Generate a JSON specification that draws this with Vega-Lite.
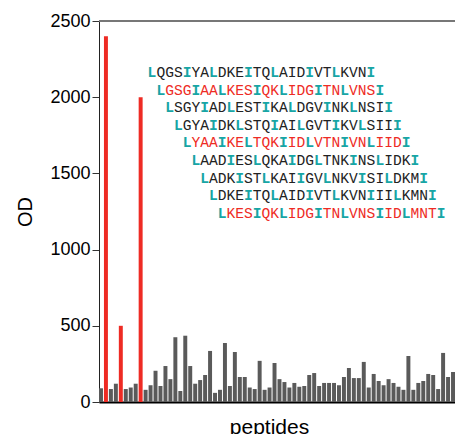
{
  "$schema": "https://vega.github.io/schema/vega-lite/v6.json",
  "width": 356,
  "height": 381,
  "autosize": {"type": "none"},
  "padding": {"left": 99, "top": 21, "right": 0, "bottom": 32},
  "background": "white",
  "config": {"view": {"stroke": null}},
  "datasets": {
    "bars": [
      {"peptide": 1, "OD": 90, "result": "negative"},
      {"peptide": 2, "OD": 2400, "result": "positive"},
      {"peptide": 3, "OD": 85, "result": "negative"},
      {"peptide": 4, "OD": 120, "result": "negative"},
      {"peptide": 5, "OD": 500, "result": "positive"},
      {"peptide": 6, "OD": 85, "result": "negative"},
      {"peptide": 7, "OD": 95, "result": "negative"},
      {"peptide": 8, "OD": 120, "result": "negative"},
      {"peptide": 9, "OD": 2000, "result": "positive"},
      {"peptide": 10, "OD": 80, "result": "negative"},
      {"peptide": 11, "OD": 110, "result": "negative"},
      {"peptide": 12, "OD": 205, "result": "negative"},
      {"peptide": 13, "OD": 105, "result": "negative"},
      {"peptide": 14, "OD": 236, "result": "negative"},
      {"peptide": 15, "OD": 150, "result": "negative"},
      {"peptide": 16, "OD": 425, "result": "negative"},
      {"peptide": 17, "OD": 72, "result": "negative"},
      {"peptide": 18, "OD": 435, "result": "negative"},
      {"peptide": 19, "OD": 236, "result": "negative"},
      {"peptide": 20, "OD": 120, "result": "negative"},
      {"peptide": 21, "OD": 144, "result": "negative"},
      {"peptide": 22, "OD": 177, "result": "negative"},
      {"peptide": 23, "OD": 335, "result": "negative"},
      {"peptide": 24, "OD": 60, "result": "negative"},
      {"peptide": 25, "OD": 80, "result": "negative"},
      {"peptide": 26, "OD": 387, "result": "negative"},
      {"peptide": 27, "OD": 105, "result": "negative"},
      {"peptide": 28, "OD": 328, "result": "negative"},
      {"peptide": 29, "OD": 164, "result": "negative"},
      {"peptide": 30, "OD": 164, "result": "negative"},
      {"peptide": 31, "OD": 95, "result": "negative"},
      {"peptide": 32, "OD": 85, "result": "negative"},
      {"peptide": 33, "OD": 270, "result": "negative"},
      {"peptide": 34, "OD": 80, "result": "negative"},
      {"peptide": 35, "OD": 95, "result": "negative"},
      {"peptide": 36, "OD": 256, "result": "negative"},
      {"peptide": 37, "OD": 150, "result": "negative"},
      {"peptide": 38, "OD": 131, "result": "negative"},
      {"peptide": 39, "OD": 95, "result": "negative"},
      {"peptide": 40, "OD": 125, "result": "negative"},
      {"peptide": 41, "OD": 100, "result": "negative"},
      {"peptide": 42, "OD": 105, "result": "negative"},
      {"peptide": 43, "OD": 177, "result": "negative"},
      {"peptide": 44, "OD": 190, "result": "negative"},
      {"peptide": 45, "OD": 105, "result": "negative"},
      {"peptide": 46, "OD": 125, "result": "negative"},
      {"peptide": 47, "OD": 125, "result": "negative"},
      {"peptide": 48, "OD": 125, "result": "negative"},
      {"peptide": 49, "OD": 110, "result": "negative"},
      {"peptide": 50, "OD": 164, "result": "negative"},
      {"peptide": 51, "OD": 223, "result": "negative"},
      {"peptide": 52, "OD": 157, "result": "negative"},
      {"peptide": 53, "OD": 157, "result": "negative"},
      {"peptide": 54, "OD": 263, "result": "negative"},
      {"peptide": 55, "OD": 95, "result": "negative"},
      {"peptide": 56, "OD": 184, "result": "negative"},
      {"peptide": 57, "OD": 138, "result": "negative"},
      {"peptide": 58, "OD": 110, "result": "negative"},
      {"peptide": 59, "OD": 150, "result": "negative"},
      {"peptide": 60, "OD": 125, "result": "negative"},
      {"peptide": 61, "OD": 100, "result": "negative"},
      {"peptide": 62, "OD": 80, "result": "negative"},
      {"peptide": 63, "OD": 302, "result": "negative"},
      {"peptide": 64, "OD": 80, "result": "negative"},
      {"peptide": 65, "OD": 125, "result": "negative"},
      {"peptide": 66, "OD": 138, "result": "negative"},
      {"peptide": 67, "OD": 184, "result": "negative"},
      {"peptide": 68, "OD": 177, "result": "negative"},
      {"peptide": 69, "OD": 85, "result": "negative"},
      {"peptide": 70, "OD": 322, "result": "negative"},
      {"peptide": 71, "OD": 164, "result": "negative"},
      {"peptide": 72, "OD": 197, "result": "negative"}
    ],
    "seq": [
      {"line":1,"col":1,"aa":"L","kind":"anchor"},{"line":1,"col":2,"aa":"Q","kind":"neg"},{"line":1,"col":3,"aa":"G","kind":"neg"},{"line":1,"col":4,"aa":"S","kind":"neg"},{"line":1,"col":5,"aa":"I","kind":"anchor"},{"line":1,"col":6,"aa":"Y","kind":"neg"},{"line":1,"col":7,"aa":"A","kind":"neg"},{"line":1,"col":8,"aa":"L","kind":"anchor"},{"line":1,"col":9,"aa":"D","kind":"neg"},{"line":1,"col":10,"aa":"K","kind":"neg"},{"line":1,"col":11,"aa":"E","kind":"neg"},{"line":1,"col":12,"aa":"I","kind":"anchor"},{"line":1,"col":13,"aa":"T","kind":"neg"},{"line":1,"col":14,"aa":"Q","kind":"neg"},{"line":1,"col":15,"aa":"L","kind":"anchor"},{"line":1,"col":16,"aa":"A","kind":"neg"},{"line":1,"col":17,"aa":"I","kind":"neg"},{"line":1,"col":18,"aa":"D","kind":"neg"},{"line":1,"col":19,"aa":"I","kind":"anchor"},{"line":1,"col":20,"aa":"V","kind":"neg"},{"line":1,"col":21,"aa":"T","kind":"neg"},{"line":1,"col":22,"aa":"L","kind":"anchor"},{"line":1,"col":23,"aa":"K","kind":"neg"},{"line":1,"col":24,"aa":"V","kind":"neg"},{"line":1,"col":25,"aa":"N","kind":"neg"},{"line":1,"col":26,"aa":"I","kind":"anchor"},
      {"line":2,"col":2,"aa":"L","kind":"anchor"},{"line":2,"col":3,"aa":"G","kind":"pos"},{"line":2,"col":4,"aa":"S","kind":"pos"},{"line":2,"col":5,"aa":"G","kind":"pos"},{"line":2,"col":6,"aa":"I","kind":"anchor"},{"line":2,"col":7,"aa":"A","kind":"pos"},{"line":2,"col":8,"aa":"A","kind":"pos"},{"line":2,"col":9,"aa":"L","kind":"anchor"},{"line":2,"col":10,"aa":"K","kind":"pos"},{"line":2,"col":11,"aa":"E","kind":"pos"},{"line":2,"col":12,"aa":"S","kind":"pos"},{"line":2,"col":13,"aa":"I","kind":"anchor"},{"line":2,"col":14,"aa":"Q","kind":"pos"},{"line":2,"col":15,"aa":"K","kind":"pos"},{"line":2,"col":16,"aa":"L","kind":"anchor"},{"line":2,"col":17,"aa":"I","kind":"pos"},{"line":2,"col":18,"aa":"D","kind":"pos"},{"line":2,"col":19,"aa":"G","kind":"pos"},{"line":2,"col":20,"aa":"I","kind":"anchor"},{"line":2,"col":21,"aa":"T","kind":"pos"},{"line":2,"col":22,"aa":"N","kind":"pos"},{"line":2,"col":23,"aa":"L","kind":"anchor"},{"line":2,"col":24,"aa":"V","kind":"pos"},{"line":2,"col":25,"aa":"N","kind":"pos"},{"line":2,"col":26,"aa":"S","kind":"pos"},{"line":2,"col":27,"aa":"I","kind":"anchor"},
      {"line":3,"col":3,"aa":"L","kind":"anchor"},{"line":3,"col":4,"aa":"S","kind":"neg"},{"line":3,"col":5,"aa":"G","kind":"neg"},{"line":3,"col":6,"aa":"Y","kind":"neg"},{"line":3,"col":7,"aa":"I","kind":"anchor"},{"line":3,"col":8,"aa":"A","kind":"neg"},{"line":3,"col":9,"aa":"D","kind":"neg"},{"line":3,"col":10,"aa":"L","kind":"anchor"},{"line":3,"col":11,"aa":"E","kind":"neg"},{"line":3,"col":12,"aa":"S","kind":"neg"},{"line":3,"col":13,"aa":"T","kind":"neg"},{"line":3,"col":14,"aa":"I","kind":"anchor"},{"line":3,"col":15,"aa":"K","kind":"neg"},{"line":3,"col":16,"aa":"A","kind":"neg"},{"line":3,"col":17,"aa":"L","kind":"anchor"},{"line":3,"col":18,"aa":"D","kind":"neg"},{"line":3,"col":19,"aa":"G","kind":"neg"},{"line":3,"col":20,"aa":"V","kind":"neg"},{"line":3,"col":21,"aa":"I","kind":"anchor"},{"line":3,"col":22,"aa":"N","kind":"neg"},{"line":3,"col":23,"aa":"K","kind":"neg"},{"line":3,"col":24,"aa":"L","kind":"anchor"},{"line":3,"col":25,"aa":"N","kind":"neg"},{"line":3,"col":26,"aa":"S","kind":"neg"},{"line":3,"col":27,"aa":"I","kind":"neg"},{"line":3,"col":28,"aa":"I","kind":"anchor"},
      {"line":4,"col":4,"aa":"L","kind":"anchor"},{"line":4,"col":5,"aa":"G","kind":"neg"},{"line":4,"col":6,"aa":"Y","kind":"neg"},{"line":4,"col":7,"aa":"A","kind":"neg"},{"line":4,"col":8,"aa":"I","kind":"anchor"},{"line":4,"col":9,"aa":"D","kind":"neg"},{"line":4,"col":10,"aa":"K","kind":"neg"},{"line":4,"col":11,"aa":"L","kind":"anchor"},{"line":4,"col":12,"aa":"S","kind":"neg"},{"line":4,"col":13,"aa":"T","kind":"neg"},{"line":4,"col":14,"aa":"Q","kind":"neg"},{"line":4,"col":15,"aa":"I","kind":"anchor"},{"line":4,"col":16,"aa":"A","kind":"neg"},{"line":4,"col":17,"aa":"I","kind":"neg"},{"line":4,"col":18,"aa":"L","kind":"anchor"},{"line":4,"col":19,"aa":"G","kind":"neg"},{"line":4,"col":20,"aa":"V","kind":"neg"},{"line":4,"col":21,"aa":"T","kind":"neg"},{"line":4,"col":22,"aa":"I","kind":"anchor"},{"line":4,"col":23,"aa":"K","kind":"neg"},{"line":4,"col":24,"aa":"V","kind":"neg"},{"line":4,"col":25,"aa":"L","kind":"anchor"},{"line":4,"col":26,"aa":"S","kind":"neg"},{"line":4,"col":27,"aa":"I","kind":"neg"},{"line":4,"col":28,"aa":"I","kind":"neg"},{"line":4,"col":29,"aa":"I","kind":"anchor"},
      {"line":5,"col":5,"aa":"L","kind":"anchor"},{"line":5,"col":6,"aa":"Y","kind":"pos"},{"line":5,"col":7,"aa":"A","kind":"pos"},{"line":5,"col":8,"aa":"A","kind":"pos"},{"line":5,"col":9,"aa":"I","kind":"anchor"},{"line":5,"col":10,"aa":"K","kind":"pos"},{"line":5,"col":11,"aa":"E","kind":"pos"},{"line":5,"col":12,"aa":"L","kind":"anchor"},{"line":5,"col":13,"aa":"T","kind":"pos"},{"line":5,"col":14,"aa":"Q","kind":"pos"},{"line":5,"col":15,"aa":"K","kind":"pos"},{"line":5,"col":16,"aa":"I","kind":"anchor"},{"line":5,"col":17,"aa":"I","kind":"pos"},{"line":5,"col":18,"aa":"D","kind":"pos"},{"line":5,"col":19,"aa":"L","kind":"anchor"},{"line":5,"col":20,"aa":"V","kind":"pos"},{"line":5,"col":21,"aa":"T","kind":"pos"},{"line":5,"col":22,"aa":"N","kind":"pos"},{"line":5,"col":23,"aa":"I","kind":"anchor"},{"line":5,"col":24,"aa":"V","kind":"pos"},{"line":5,"col":25,"aa":"N","kind":"pos"},{"line":5,"col":26,"aa":"L","kind":"anchor"},{"line":5,"col":27,"aa":"I","kind":"pos"},{"line":5,"col":28,"aa":"I","kind":"pos"},{"line":5,"col":29,"aa":"D","kind":"pos"},{"line":5,"col":30,"aa":"I","kind":"anchor"},
      {"line":6,"col":6,"aa":"L","kind":"anchor"},{"line":6,"col":7,"aa":"A","kind":"neg"},{"line":6,"col":8,"aa":"A","kind":"neg"},{"line":6,"col":9,"aa":"D","kind":"neg"},{"line":6,"col":10,"aa":"I","kind":"anchor"},{"line":6,"col":11,"aa":"E","kind":"neg"},{"line":6,"col":12,"aa":"S","kind":"neg"},{"line":6,"col":13,"aa":"L","kind":"anchor"},{"line":6,"col":14,"aa":"Q","kind":"neg"},{"line":6,"col":15,"aa":"K","kind":"neg"},{"line":6,"col":16,"aa":"A","kind":"neg"},{"line":6,"col":17,"aa":"I","kind":"anchor"},{"line":6,"col":18,"aa":"D","kind":"neg"},{"line":6,"col":19,"aa":"G","kind":"neg"},{"line":6,"col":20,"aa":"L","kind":"anchor"},{"line":6,"col":21,"aa":"T","kind":"neg"},{"line":6,"col":22,"aa":"N","kind":"neg"},{"line":6,"col":23,"aa":"K","kind":"neg"},{"line":6,"col":24,"aa":"I","kind":"anchor"},{"line":6,"col":25,"aa":"N","kind":"neg"},{"line":6,"col":26,"aa":"S","kind":"neg"},{"line":6,"col":27,"aa":"L","kind":"anchor"},{"line":6,"col":28,"aa":"I","kind":"neg"},{"line":6,"col":29,"aa":"D","kind":"neg"},{"line":6,"col":30,"aa":"K","kind":"neg"},{"line":6,"col":31,"aa":"I","kind":"anchor"},
      {"line":7,"col":7,"aa":"L","kind":"anchor"},{"line":7,"col":8,"aa":"A","kind":"neg"},{"line":7,"col":9,"aa":"D","kind":"neg"},{"line":7,"col":10,"aa":"K","kind":"neg"},{"line":7,"col":11,"aa":"I","kind":"anchor"},{"line":7,"col":12,"aa":"S","kind":"neg"},{"line":7,"col":13,"aa":"T","kind":"neg"},{"line":7,"col":14,"aa":"L","kind":"anchor"},{"line":7,"col":15,"aa":"K","kind":"neg"},{"line":7,"col":16,"aa":"A","kind":"neg"},{"line":7,"col":17,"aa":"I","kind":"neg"},{"line":7,"col":18,"aa":"I","kind":"anchor"},{"line":7,"col":19,"aa":"G","kind":"neg"},{"line":7,"col":20,"aa":"V","kind":"neg"},{"line":7,"col":21,"aa":"L","kind":"anchor"},{"line":7,"col":22,"aa":"N","kind":"neg"},{"line":7,"col":23,"aa":"K","kind":"neg"},{"line":7,"col":24,"aa":"V","kind":"neg"},{"line":7,"col":25,"aa":"I","kind":"anchor"},{"line":7,"col":26,"aa":"S","kind":"neg"},{"line":7,"col":27,"aa":"I","kind":"neg"},{"line":7,"col":28,"aa":"L","kind":"anchor"},{"line":7,"col":29,"aa":"D","kind":"neg"},{"line":7,"col":30,"aa":"K","kind":"neg"},{"line":7,"col":31,"aa":"M","kind":"neg"},{"line":7,"col":32,"aa":"I","kind":"anchor"},
      {"line":8,"col":8,"aa":"L","kind":"anchor"},{"line":8,"col":9,"aa":"D","kind":"neg"},{"line":8,"col":10,"aa":"K","kind":"neg"},{"line":8,"col":11,"aa":"E","kind":"neg"},{"line":8,"col":12,"aa":"I","kind":"anchor"},{"line":8,"col":13,"aa":"T","kind":"neg"},{"line":8,"col":14,"aa":"Q","kind":"neg"},{"line":8,"col":15,"aa":"L","kind":"anchor"},{"line":8,"col":16,"aa":"A","kind":"neg"},{"line":8,"col":17,"aa":"I","kind":"neg"},{"line":8,"col":18,"aa":"D","kind":"neg"},{"line":8,"col":19,"aa":"I","kind":"anchor"},{"line":8,"col":20,"aa":"V","kind":"neg"},{"line":8,"col":21,"aa":"T","kind":"neg"},{"line":8,"col":22,"aa":"L","kind":"anchor"},{"line":8,"col":23,"aa":"K","kind":"neg"},{"line":8,"col":24,"aa":"V","kind":"neg"},{"line":8,"col":25,"aa":"N","kind":"neg"},{"line":8,"col":26,"aa":"I","kind":"anchor"},{"line":8,"col":27,"aa":"I","kind":"neg"},{"line":8,"col":28,"aa":"I","kind":"neg"},{"line":8,"col":29,"aa":"L","kind":"anchor"},{"line":8,"col":30,"aa":"K","kind":"neg"},{"line":8,"col":31,"aa":"M","kind":"neg"},{"line":8,"col":32,"aa":"N","kind":"neg"},{"line":8,"col":33,"aa":"I","kind":"anchor"},
      {"line":9,"col":9,"aa":"L","kind":"anchor"},{"line":9,"col":10,"aa":"K","kind":"pos"},{"line":9,"col":11,"aa":"E","kind":"pos"},{"line":9,"col":12,"aa":"S","kind":"pos"},{"line":9,"col":13,"aa":"I","kind":"anchor"},{"line":9,"col":14,"aa":"Q","kind":"pos"},{"line":9,"col":15,"aa":"K","kind":"pos"},{"line":9,"col":16,"aa":"L","kind":"anchor"},{"line":9,"col":17,"aa":"I","kind":"pos"},{"line":9,"col":18,"aa":"D","kind":"pos"},{"line":9,"col":19,"aa":"G","kind":"pos"},{"line":9,"col":20,"aa":"I","kind":"anchor"},{"line":9,"col":21,"aa":"T","kind":"pos"},{"line":9,"col":22,"aa":"N","kind":"pos"},{"line":9,"col":23,"aa":"L","kind":"anchor"},{"line":9,"col":24,"aa":"V","kind":"pos"},{"line":9,"col":25,"aa":"N","kind":"pos"},{"line":9,"col":26,"aa":"S","kind":"pos"},{"line":9,"col":27,"aa":"I","kind":"anchor"},{"line":9,"col":28,"aa":"I","kind":"pos"},{"line":9,"col":29,"aa":"D","kind":"pos"},{"line":9,"col":30,"aa":"L","kind":"anchor"},{"line":9,"col":31,"aa":"M","kind":"pos"},{"line":9,"col":32,"aa":"N","kind":"pos"},{"line":9,"col":33,"aa":"T","kind":"pos"},{"line":9,"col":34,"aa":"I","kind":"anchor"}
    ]
  },
  "layer": [
    {
      "data": {"name": "bars"},
      "layer": [
        {
          "mark": {"type": "bar"},
          "encoding": {
            "x": {
              "field": "peptide", "type": "ordinal",
              "scale": {"paddingInner": 0.2, "paddingOuter": 0},
              "axis": {"title": "peptides", "labels": false, "ticks": false, "domainColor": "#000", "domainWidth": 2,
                       "titleFont": "Liberation Sans", "titleFontSize": 21, "titleFontWeight": "normal", "titleColor": "#000", "titlePadding": 14, "titleX": 170}
            },
            "y": {
              "field": "OD", "type": "quantitative",
              "scale": {"domain": [0, 2500], "nice": false},
              "axis": {"values": [0, 500, 1000, 1500, 2000, 2500], "format": "d", "grid": false, "tickSize": 7,
                       "labelFont": "Liberation Sans", "labelFontSize": 18,
                       "labelPadding": 2, "labelColor": "#000", "domainColor": "#222", "tickColor": "#333",
                       "title": "OD", "titleFont": "Liberation Sans", "titleFontSize": 20, "titleFontWeight": "normal", "titleColor": "#000", "titlePadding": 14}
            },
            "color": {"field": "result", "type": "nominal",
                      "scale": {"domain": ["negative", "positive"], "range": ["#5a5a5a", "#EE2B24"]}, "legend": null}
          }
        },
        {
          "mark": {"type": "rule", "color": "#777", "strokeWidth": 2},
          "encoding": {"y": {"datum": 2500, "type": "quantitative"}}
        }
      ]
    },
    {
      "data": {"name": "seq"},
      "encoding": {
        "x": {"field": "col", "type": "quantitative", "scale": {"domain": [-5.05, 35.59], "nice": false, "zero": false}, "axis": null},
        "y": {"field": "line", "type": "quantitative", "scale": {"domain": [-2.18, 19.47], "nice": false, "zero": false, "reverse": true}, "axis": null},
        "text": {"field": "aa"},
        "color": {"field": "kind", "type": "nominal",
                  "scale": {"domain": ["neg", "pos", "anchor"], "range": ["#222", "#EE2B24", "#17A5A5"]}, "legend": null}
      },
      "layer": [
        {
          "transform": [{"filter": "datum.kind !== 'anchor'"}],
          "mark": {"type": "text", "font": "Liberation Mono", "fontSize": 14.6, "align": "center", "baseline": "alphabetic"}
        },
        {
          "transform": [{"filter": "datum.kind === 'anchor'"}],
          "mark": {"type": "text", "font": "Liberation Mono", "fontSize": 14.6, "fontWeight": "bold", "align": "center", "baseline": "alphabetic"}
        }
      ]
    }
  ],
  "resolve": {"scale": {"x": "independent", "y": "independent", "color": "independent"}}
}
